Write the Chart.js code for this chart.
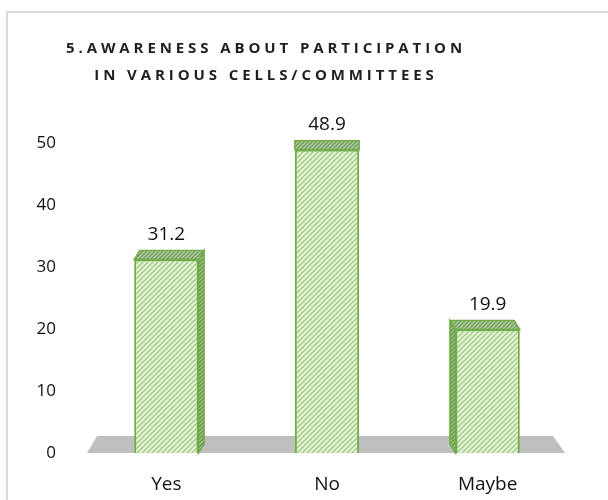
<!DOCTYPE html>
<html>
<head>
<meta charset="utf-8">
<script src="https://cdn.jsdelivr.net/npm/chart.js@4/dist/chart.umd.min.js"></script>
<style>
  body { margin: 0; background: #fff; }
  #wrap { position: relative; width: 608px; height: 500px; }
  #frame { position: absolute; left: 6px; top: 11px; right: -4px; bottom: -4px;
           border-left: 2px solid #d9d9d9; border-top: 2px solid #d9d9d9; }
  canvas { position: absolute; left: 0; top: 0; }
</style>
</head>
<body>
<div id="wrap">
  <div id="frame"></div>
  <canvas id="chart" width="608" height="500"></canvas>
</div>
<script>
// ===== DATA =====
const categories = ["Yes", "No", "Maybe"];
const values = [31.2, 48.9, 19.9];
const yTicks = [0, 10, 20, 30, 40, 50];
const titleLines = ["5.AWARENESS ABOUT PARTICIPATION", "IN VARIOUS CELLS/COMMITTEES"];

const FONT = "'Open Sans', sans-serif";

// diagonal hatch fill
function hatch(bg, fg, size, lw) {
  let c = document.createElement("canvas");
  c.width = c.height = size;
  let x = c.getContext("2d");
  x.fillStyle = bg;
  x.fillRect(0, 0, size, size);
  x.strokeStyle = fg;
  x.lineWidth = lw;
  x.beginPath();
  x.moveTo(0, size); x.lineTo(size, 0);
  x.moveTo(-size, size); x.lineTo(size, -size);
  x.moveTo(0, 2 * size); x.lineTo(2 * size, 0);
  x.stroke();
  return x.createPattern(c, "repeat");
}

const frontFill = hatch("#e6f2dc", "#9fcd80", 5, 1.4);
const topFill = hatch("#7a9f66", "#bcd6aa", 4, 1.2);
const sideFill = hatch("#6a984f", "#a8cb90", 4, 1.2);

// ===== PLUGINS =====
// letter-spaced title, nudged left like the original
const spacedTitle = {
  id: "spacedTitle",
  afterInit(chart) {
    const tb = chart.titleBlock, draw = tb.draw;
    tb.draw = function () {
      const ctx = chart.ctx;
      ctx.save();
      ctx.letterSpacing = "3.9px";
      ctx.translate(-21, 0);
      draw.apply(this, arguments);
      ctx.restore();
    };
  }
};

// floor, top/side faces and value labels
const depth3d = {
  id: "depth3d",
  beforeDatasetsDraw(chart) {
    const { ctx, chartArea: a, scales: { y } } = chart;
    const y0 = y.getPixelForValue(0);
    ctx.save();
    ctx.fillStyle = "#bfbfbf";
    ctx.beginPath();
    ctx.moveTo(a.left + 1, y0);
    ctx.lineTo(a.left + 11, y0 - 17);
    ctx.lineTo(a.right - 15, y0 - 17);
    ctx.lineTo(a.right - 3, y0);
    ctx.closePath();
    ctx.fill();
    ctx.restore();
  },
  afterDatasetsDraw(chart) {
    const { ctx, chartArea: a } = chart;
    const mid = (a.left + a.right) / 2;
    ctx.save();
    chart.getDatasetMeta(0).data.forEach((bar, i) => {
      const { x, y, base, width } = bar.getProps(["x", "y", "base", "width"], true);
      const x1 = x - width / 2, x2 = x + width / 2;
      const dx = (mid - x) * 0.035, dy = 9;
      ctx.strokeStyle = "#70ad47";
      ctx.lineWidth = 1.5;
      if (Math.abs(dx) > 1) {
        const xs = dx > 0 ? x2 : x1;
        ctx.beginPath();
        ctx.moveTo(xs, y);
        ctx.lineTo(xs + dx, y - dy);
        ctx.lineTo(xs + dx, base - dy);
        ctx.lineTo(xs, base);
        ctx.closePath();
        ctx.fillStyle = sideFill;
        ctx.fill();
        ctx.stroke();
      }
      ctx.beginPath();
      ctx.moveTo(x1, y);
      ctx.lineTo(x2, y);
      ctx.lineTo(x2 + dx, y - dy);
      ctx.lineTo(x1 + dx, y - dy);
      ctx.closePath();
      ctx.fillStyle = topFill;
      ctx.fill();
      ctx.stroke();

      ctx.fillStyle = "#111";
      ctx.font = "19px " + FONT;
      ctx.textAlign = "center";
      ctx.textBaseline = "middle";
      ctx.fillText(values[i].toFixed(1), x, y - dy - 16);
    });
    ctx.restore();
  }
};

// ===== CHART =====
new Chart(document.getElementById("chart"), {
  type: "bar",
  data: {
    labels: categories,
    datasets: [{
      data: values,
      backgroundColor: frontFill,
      borderColor: "#70ad47",
      borderWidth: 2,
      categoryPercentage: 1,
      barPercentage: 0.4
    }]
  },
  options: {
    responsive: false,
    animation: false,
    layout: { padding: { left: 6, right: 40, top: 0, bottom: 0 } },
    plugins: {
      legend: { display: false },
      tooltip: { enabled: false },
      title: {
        display: true,
        text: titleLines,
        color: "#1f1f1f",
        font: { family: FONT, size: 15, weight: "bold", lineHeight: 1.8 },
        padding: { top: 35, bottom: 54 }
      }
    },
    scales: {
      x: {
        grid: { display: false, drawTicks: false },
        border: { display: false },
        ticks: { color: "#111", font: { family: FONT, size: 19 }, padding: 20 },
        afterFit: s => { s.height = 47; }
      },
      y: {
        min: yTicks[0],
        max: yTicks[yTicks.length - 1],
        afterBuildTicks: s => { s.ticks = yTicks.map(v => ({ value: v })); },
        grid: { display: false, drawTicks: false },
        border: { display: false },
        ticks: { color: "#111", font: { family: FONT, size: 17 }, padding: 30 },
        afterFit: s => { s.width = 80; }
      }
    }
  },
  plugins: [spacedTitle, depth3d]
});
</script>
</body>
</html>
